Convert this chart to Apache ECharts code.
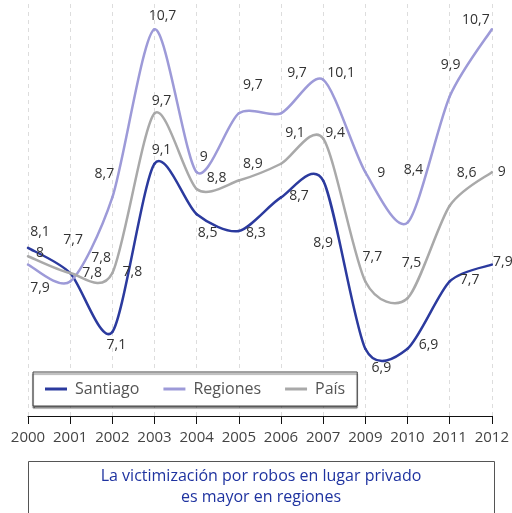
<!DOCTYPE html>
<html>
<head>
<meta charset="utf-8">
<script src="https://cdn.jsdelivr.net/npm/echarts@6/dist/echarts.min.js"></script>
<style>
  html, body { margin: 0; padding: 0; background: #fff; }
  #chart { width: 512px; height: 513px; }
</style>
</head>
<body>
<div id="chart"></div>
<script>
// years (2008 is missing in the source)
const years = ['2000', '2001', '2002', '2003', '2004', '2005', '2006', '2007', '2009', '2010', '2011', '2012']

const santiago = [8.1, 7.8, 7.1, 9.1, 8.5, 8.3, 8.7, 8.9, 6.9, 6.9, 7.7, 7.9]
const regiones = [7.9, 7.7, 8.7, 10.7, 9, 9.7, 9.7, 10.1, 9, 8.4, 9.9, 10.7]
const pais = [8, 7.8, 7.8, 9.7, 8.8, 8.9, 9.1, 9.4, 7.7, 7.5, 8.6, 9]

// label offsets from each point, in px
const santiagoLabelOffset = [[12, -16], [22, 0], [4, 13], [7, -14], [11, 19], [17, 2], [18, -1], [0, 62], [16, 19], [21, -4], [20, -1], [11, -3]]
const regionesLabelOffset = [[12, 23], [3, -41], [-8, -23], [8, -13], [7, -15], [14, -28], [16, -40], [18, -7], [16, 1], [6, -53], [1, -31], [-16, -9]]
const paisLabelOffset = [[12, -3], [31, -15], [20, -1], [7, -12], [20, -11], [14, -17], [14, -31], [12, -6], [7, -24], [4, -35], [17, -33], [10, 0]]

const FONT = '"Open Sans", "Noto Sans", sans-serif'
const TENSION = 7.5

const chart = echarts.init(document.getElementById('chart'), null, {renderer: 'canvas'})

// curve through the points as a cardinal spline (the source chart overshoots a bit)
const curveSeries = (name, values, color) => {
  return {
    name: name,
    type: 'custom',
    color: color,
    itemStyle: { color: color },
    data: [[0, values[0]]],
    renderItem: (params, api) => {
      const pts = values.map((v, i) => api.coord([i, v]))
      const children = []
      for (let i = 0; i < pts.length - 1; i++) {
        const p0 = pts[Math.max(i - 1, 0)]
        const p1 = pts[i]
        const p2 = pts[i + 1]
        const p3 = pts[Math.min(i + 2, pts.length - 1)]
        children.push({
          type: 'bezierCurve',
          shape: {
            x1: p1[0], y1: p1[1],
            cpx1: p1[0] + (p2[0] - p0[0]) / TENSION, cpy1: p1[1] + (p2[1] - p0[1]) / TENSION,
            cpx2: p2[0] - (p3[0] - p1[0]) / TENSION, cpy2: p2[1] - (p3[1] - p1[1]) / TENSION,
            x2: p2[0], y2: p2[1]
          },
          style: { stroke: color, lineWidth: 2.5, fill: null, lineCap: 'round' }
        })
      }
      return { type: 'group', children: children }
    },
    z: 3
  }
}

// invisible line, only carries the value labels
const labelSeries = (name, values, offsets, color) => {
  return {
    name: name,
    type: 'line',
    symbol: 'circle',
    symbolSize: 1,
    color: color,
    lineStyle: { opacity: 0 },
    itemStyle: { color: 'rgba(0,0,0,0)', borderWidth: 0 },
    label: {
      show: true,
      position: 'inside',
      color: '#333',
      fontFamily: FONT,
      fontSize: 14,
      formatter: p => String(p.value).replace('.', ',')
    },
    data: values.map((v, i) => {
      return { value: v, label: { offset: offsets[i] } }
    }),
    z: 4
  }
}

const option = {
  animation: false,
  grid: { left: 28, right: 18, top: 4, bottom: 97 },
  legend: {
    left: 33,
    top: 372,
    orient: 'horizontal',
    padding: [9, 12, 9, 12],
    itemGap: 24,
    itemWidth: 22,
    itemHeight: 3,
    icon: 'rect',
    backgroundColor: '#fff',
    borderColor: '#444',
    borderWidth: 1,
    shadowColor: 'rgba(0,0,0,0.55)',
    shadowOffsetY: 2,
    shadowBlur: 1,
    textStyle: { fontFamily: FONT, fontSize: 16, color: '#555', padding: [0, 0, 0, 3] },
    data: ['Santiago', 'Regiones', 'País'],
    z: 5
  },
  xAxis: {
    type: 'category',
    boundaryGap: false,
    data: years,
    axisLine: { lineStyle: { color: '#111', width: 1 } },
    axisTick: { show: true, inside: false, length: 8, lineStyle: { color: '#111' } },
    axisLabel: { fontFamily: FONT, fontSize: 15, color: '#444', margin: 14, showMaxLabel: true, showMinLabel: true, interval: 0 },
    splitLine: { show: true, lineStyle: { type: [4, 4], color: '#ddd', width: 1 } }
  },
  yAxis: {
    type: 'value',
    min: 6.1,
    max: 11,
    show: false,
    splitLine: { show: false }
  },
  graphic: [
    {
      type: 'rect',
      shape: { x: 28.5, y: 461.5, width: 466, height: 80 },
      style: { fill: '#fff', stroke: '#555', lineWidth: 1 }
    },
    {
      type: 'text',
      x: 261,
      y: 487,
      style: {
        text: 'La victimización por robos en lugar privado\nes mayor en regiones',
        fill: '#1f33a0',
        font: '16px ' + FONT,
        lineHeight: 21,
        align: 'center',
        verticalAlign: 'middle'
      }
    }
  ],
  series: [
    curveSeries('Santiago', santiago, '#2b3a9e'),
    curveSeries('Regiones', regiones, '#9d9ad8'),
    curveSeries('País', pais, '#a9a9a9'),
    labelSeries('Santiago', santiago, santiagoLabelOffset, '#2b3a9e'),
    labelSeries('Regiones', regiones, regionesLabelOffset, '#9d9ad8'),
    labelSeries('País', pais, paisLabelOffset, '#a9a9a9')
  ]
}

chart.setOption(option)
</script>
</body>
</html>
